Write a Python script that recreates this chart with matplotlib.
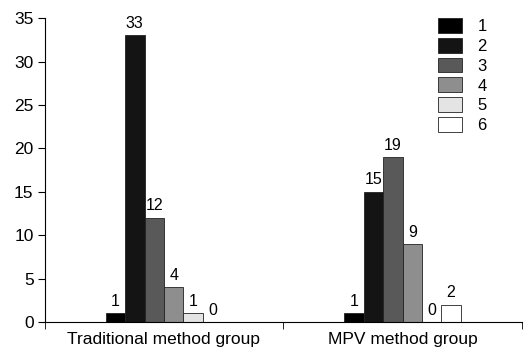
import numpy as np
import matplotlib as mpl
mpl.use("Agg")
import matplotlib.pyplot as plt

plt.rcParams["font.family"] = ["Liberation Sans", "DejaVu Sans"]
plt.rcParams["font.size"] = 12.5

groups = ["Traditional method group", "MPV method group"]
series = ["1", "2", "3", "4", "5", "6"]
values = [
    [1, 1],
    [33, 15],
    [12, 19],
    [4, 9],
    [1, 0],
    [0, 2],
]
colors = ["#000000", "#141414", "#595959", "#8e8e8e", "#e4e4e4", "#ffffff"]

fig = plt.figure(figsize=(5.26, 3.55), dpi=100)
ax = fig.add_axes([0.085, 0.093, 0.907, 0.856])

x = np.arange(len(groups))
width = 0.0815
for i, (name, vals) in enumerate(zip(series, values)):
    pos = x + (i - 2.5) * width
    ax.bar(pos, vals, width, color=colors[i], edgecolor="#222222",
           linewidth=0.6, label=name)
    for p, v in zip(pos, vals):
        ax.text(p, v + 0.5, str(v), ha="center", va="bottom", fontsize=11.5)

ax.set_xlim(-0.5, 1.5)
ax.set_ylim(0, 35)
ax.set_yticks(range(0, 36, 5))
ax.set_xticks(x)
ax.set_xticklabels(groups)
ax.set_xticks([-0.5, 0.5, 1.5], minor=True)
ax.tick_params(axis="x", which="major", length=0, pad=7)
ax.tick_params(axis="x", which="minor", length=5, direction="out")
ax.tick_params(axis="y", length=5, direction="out", pad=3)
ax.spines["top"].set_visible(False)
ax.spines["right"].set_visible(False)

ax.legend(loc="upper right", bbox_to_anchor=(0.958, 1.05), frameon=False,
          handlelength=1.45, handleheight=1.0, labelspacing=0.22,
          handletextpad=0.9, fontsize=12)

plt.savefig("out.png", dpi=100)
